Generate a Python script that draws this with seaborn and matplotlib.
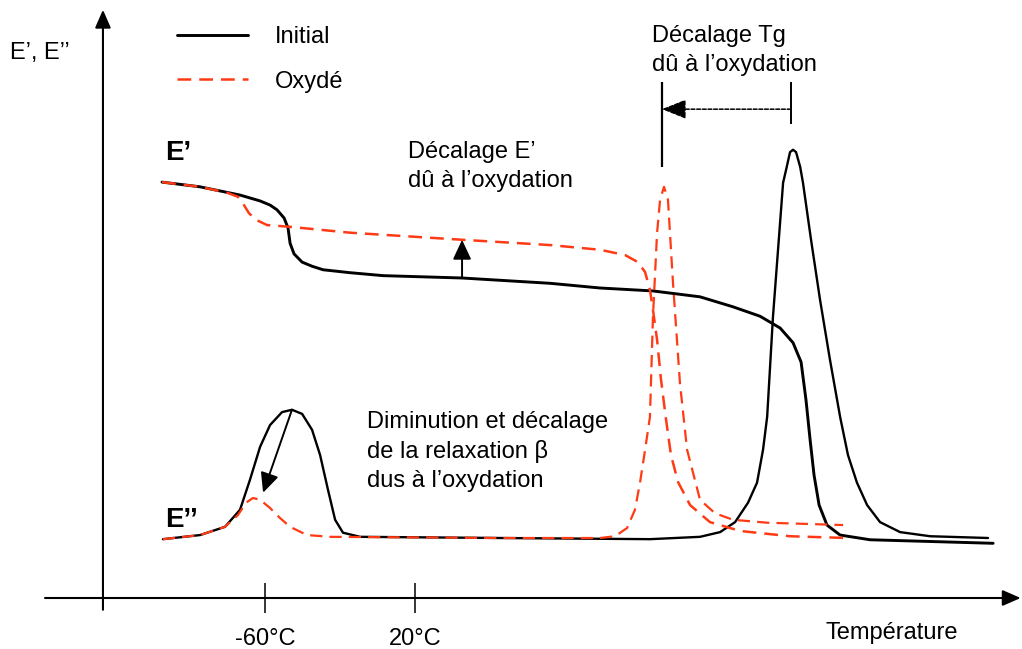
import matplotlib
matplotlib.use("Agg")
import matplotlib.pyplot as plt
import seaborn as sns

# Schematic DMA curves: temperature (°C) vs modulus (arbitrary units)
temp_e1_initial = [-114.9, -94.6, -73.3, -62.6, -57.3, -53.6, -49.8, -47.7, -46.6, -44.5,
                   -40.2, -34.9, -29.0, -14.6, 3.0, 45.1, 92.0, 118.7, 146.9, 172.0,
                   189.6, 204.0, 214.7, 221.6, 225.9, 228.5, 230.7, 232.8, 235.5, 239.7,
                   246.7, 262.7, 328.3]
e1_initial = [70.7, 69.9, 68.5, 67.5, 66.8, 66.0, 64.6, 62.9, 60.3, 58.5,
              57.1, 56.4, 55.8, 55.3, 54.8, 54.4, 53.5, 52.7, 52.2, 51.2,
              49.5, 47.9, 45.9, 43.4, 40.1, 33.7, 26.9, 20.9, 15.8, 12.4,
              10.7, 9.9, 9.3]

temp_e1_oxide = [-114.9, -94.6, -80.2, -74.4, -71.2, -68.5, -64.8, -58.9, -46.6, -14.6,
                 45.1, 92.0, 118.7, 132.0, 138.9, 142.7, 145.3, 146.9, 149.1, 151.2,
                 153.9, 156.5, 160.3, 166.7, 177.3, 193.3, 220.0, 250.4]
e1_oxide = [70.7, 69.9, 68.9, 68.2, 66.8, 65.4, 64.3, 63.4, 63.1, 62.1,
            60.9, 60.0, 59.2, 58.3, 57.1, 55.4, 52.4, 49.0, 43.9, 37.1,
            30.3, 24.3, 19.7, 15.8, 12.9, 11.4, 10.5, 10.2]

temp_e2_initial = [-114.4, -94.6, -81.3, -73.3, -68.0, -62.6, -57.3, -50.9, -45.6, -40.2,
                   -34.9, -30.6, -26.4, -22.6, -18.4, -9.3, 65.4, 145.3, 172.0, 182.7,
                   190.7, 197.6, 202.4, 205.6, 207.8, 210.9, 213.6, 216.3, 217.9, 220.0,
                   221.6, 223.2, 225.4, 226.9, 231.2, 236.0, 241.3, 246.7, 250.9, 255.7,
                   261.1, 268.0, 278.7, 294.7, 325.6]
e2_initial = [10.0, 10.7, 12.1, 15.0, 20.1, 25.7, 29.4, 31.6, 32.0, 31.3,
              28.6, 24.3, 18.4, 13.3, 11.1, 10.4, 10.2, 10.0, 10.4, 11.2,
              12.9, 16.2, 19.6, 25.2, 30.8, 47.8, 59.2, 70.6, 72.8, 75.8,
              76.2, 75.8, 73.3, 70.6, 60.9, 50.7, 40.5, 30.8, 24.3, 19.6,
              15.8, 12.9, 11.2, 10.5, 10.2]

temp_e2_oxide = [-114.4, -94.6, -81.3, -74.4, -70.1, -66.4, -62.6, -57.3, -52.0, -46.6,
                 -37.6, -25.3, 65.4, 118.7, 126.7, 133.1, 137.3, 140.0, 142.7, 145.3,
                 146.9, 149.1, 150.7, 152.8, 154.9, 157.6, 161.3, 165.1, 172.0, 180.0,
                 189.6, 207.8, 248.3]
e2_oxide = [10.0, 10.7, 12.1, 14.1, 16.2, 17.0, 16.7, 15.3, 13.6, 12.1,
            10.7, 10.4, 10.2, 10.2, 10.5, 11.9, 15.0, 19.6, 25.2, 30.8,
            47.8, 62.1, 67.7, 69.9, 67.7, 53.5, 36.5, 25.2, 16.7, 14.4,
            13.3, 12.8, 12.4]

tick_temps = [-60, 20]
tick_labels = ["-60°C", "20°C"]
series_labels = ["Initial", "Oxydé"]

BLACK = "#000000"
RED = "#ff3a14"
DASH = (0, (5.5, 3.2))

sns.set_theme(style="white")
plt.rcParams["font.family"] = ["Liberation Sans", "DejaVu Sans"]
plt.rcParams["text.color"] = "black"
plt.rcParams["xtick.color"] = "black"
plt.rcParams["xtick.labelcolor"] = "black"
FS = 17
LS = 1.4

fig = plt.figure(figsize=(10.22, 6.49), dpi=100)
ax = fig.add_axes([0, 0, 1, 1])

sns.lineplot(x=temp_e1_initial, y=e1_initial, sort=False, estimator=None,
             color=BLACK, linewidth=2.1, label=series_labels[0], ax=ax, zorder=3)
sns.lineplot(x=temp_e2_initial, y=e2_initial, sort=False, estimator=None,
             color=BLACK, linewidth=1.7, label="_e2i", ax=ax, zorder=3)
sns.lineplot(x=temp_e1_oxide, y=e1_oxide, sort=False, estimator=None,
             color=RED, linewidth=1.8, linestyle=DASH, label=series_labels[1], ax=ax, zorder=4)
sns.lineplot(x=temp_e2_oxide, y=e2_oxide, sort=False, estimator=None,
             color=RED, linewidth=1.6, linestyle=DASH, label="_e2o", ax=ax, zorder=4)

ax.set_xlim(-201.3, 343.7)
ax.set_ylim(-8.67, 101.66)
ax.spines["bottom"].set_position(("data", 0))
for s in ax.spines.values():
    s.set_visible(False)

# Axes drawn as arrows
ax_kw = dict(arrowstyle="-|>,head_length=0.55,head_width=0.24", color="black",
             lw=1.5, shrinkA=0, shrinkB=0, mutation_scale=20)
ax.annotate("", xy=(-146.4, 100.0), xytext=(-146.4, -2.0), arrowprops=ax_kw)
ax.annotate("", xy=(343.0, 0), xytext=(-177.3, 0), arrowprops=ax_kw)

ax.set_xticks(tick_temps)
ax.set_xticklabels(tick_labels, fontsize=FS)
ax.set_yticks([])
ax.tick_params(axis="x", direction="inout", length=21, width=1.1, pad=11,
               color="black", bottom=True)
ax.set_xlabel("")
ax.set_ylabel("")

# Labels
ax.text(-196.0, 92.6, "E’, E’’", fontsize=FS, va="center", ha="left")
ax.text(-113.3, 75.6, "E’", fontsize=20, fontweight="bold", va="center", ha="left")
ax.text(-113.3, 13.3, "E’’", fontsize=20, fontweight="bold", va="center", ha="left")
ax.text(238.7, -5.95, "Température", fontsize=FS, va="center", ha="left")

ax.text(16.3, 73.4, "Décalage E’\ndû à l’oxydation", fontsize=FS, va="center",
        ha="left", linespacing=LS)
ax.text(146.4, 93.1, "Décalage Tg\ndû à l’oxydation", fontsize=FS, va="center",
        ha="left", linespacing=LS)
ax.text(-5.6, 24.9, "Diminution et décalage\nde la relaxation β\ndus à l’oxydation",
        fontsize=FS, va="center", ha="left", linespacing=LS)

# Shift of the storage modulus plateau
arr_kw = dict(arrowstyle="-|>,head_length=0.6,head_width=0.28", color="black",
              lw=1.4, shrinkA=0, shrinkB=0, mutation_scale=20)
ax.annotate("", xy=(45.1, 60.9), xytext=(45.1, 54.4), arrowprops=arr_kw, zorder=5)

# Decrease of the beta relaxation
ax.annotate("", xy=(-61.0, 17.9), xytext=(-45.6, 32.0), arrowprops=arr_kw, zorder=5)

# Tg shift markers
ax.vlines(151.7, 73.3, 87.7, color="black", lw=1.6)
ax.vlines(220.5, 80.6, 87.7, color="black", lw=1.4)
tg_kw = dict(arrowstyle="-|>,head_length=0.75,head_width=0.3", color="black",
             lw=1.1, shrinkA=0, shrinkB=0, mutation_scale=20, linestyle=(0, (2.5, 1.2)))
ax.annotate("", xy=(151.7, 83.1), xytext=(220.5, 83.1), arrowprops=tg_kw)

# Legend
ax.legend(loc="upper left", bbox_to_anchor=(177 / 1022, 1 - 26 / 649),
          frameon=False, fontsize=FS, handlelength=3.0, handletextpad=1.15,
          labelspacing=0.96, borderpad=0, borderaxespad=0)

fig.savefig("out.png", dpi=100, facecolor="white")
